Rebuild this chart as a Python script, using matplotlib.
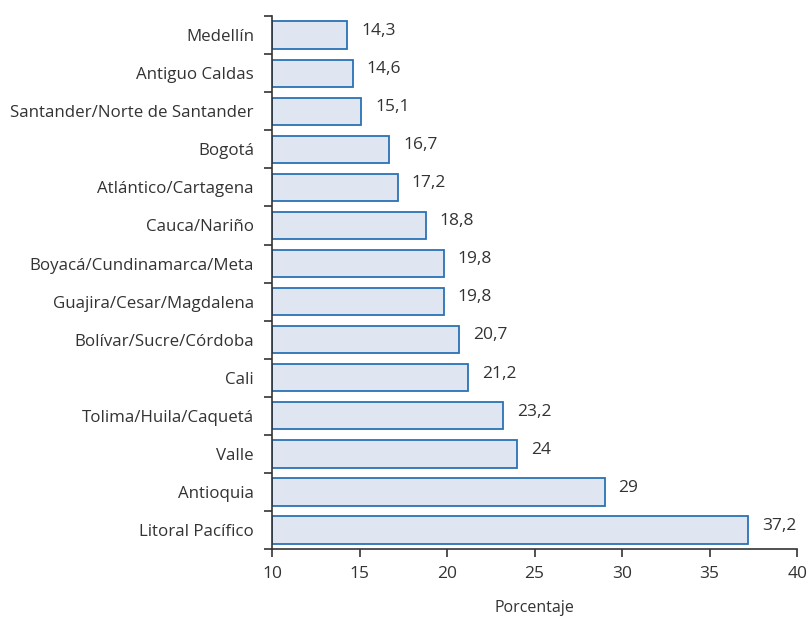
import matplotlib.pyplot as plt
import numpy as np

regions = [
    "Medellín",
    "Antiguo Caldas",
    "Santander/Norte de Santander",
    "Bogotá",
    "Atlántico/Cartagena",
    "Cauca/Nariño",
    "Boyacá/Cundinamarca/Meta",
    "Guajira/Cesar/Magdalena",
    "Bolívar/Sucre/Córdoba",
    "Cali",
    "Tolima/Huila/Caquetá",
    "Valle",
    "Antioquia",
    "Litoral Pacífico",
]
values = [14.3, 14.6, 15.1, 16.7, 17.2, 18.8, 19.8, 19.8, 20.7, 21.2, 23.2, 24, 29, 37.2]
x_ticks = [10, 15, 20, 25, 30, 35, 40]

plt.rcParams["font.family"] = ["Open Sans", "DejaVu Sans"]
text_color = "#333333"

fig = plt.figure(figsize=(8.08, 6.2), dpi=100)
ax = fig.add_axes([0.3366, 0.1145, 0.65, 0.8595])

n = len(regions)
pos = np.arange(n)
base = 10
ax.barh(
    pos,
    [v - base for v in values],
    left=base,
    height=0.72,
    color="#dfe6f1",
    edgecolor="#2a72b5",
    linewidth=1.3,
)

for p, v in zip(pos, values):
    label = f"{v:g}".replace(".", ",")
    ax.annotate(
        label,
        (v, p),
        xytext=(10, 3),
        textcoords="offset points",
        va="center",
        ha="left",
        fontsize=12.5,
        color=text_color,
    )

ax.set_xlim(10, 40)
ax.set_ylim(n - 0.5, -0.5)
ax.set_xticks(x_ticks)
ax.set_xticklabels([str(t) for t in x_ticks], fontsize=12.5, color=text_color)

# ticks at category boundaries, labels at centres
ax.set_yticks(np.arange(n + 1) - 0.5)
ax.set_yticklabels([])
ax.set_yticks(pos, minor=True)
ax.set_yticklabels(regions, minor=True, fontsize=12.2, color=text_color)
ax.tick_params(axis="y", which="minor", length=0, pad=13)
ax.tick_params(axis="y", which="major", length=6, width=1.2, color="#333333")
ax.tick_params(axis="x", length=6, width=1.2, color="#333333", pad=6)

for s in ["top", "right"]:
    ax.spines[s].set_visible(False)
for s in ["left", "bottom"]:
    ax.spines[s].set_color("#333333")
    ax.spines[s].set_linewidth(1.2)

ax.set_xlabel("Porcentaje", fontsize=11.5, color=text_color, labelpad=13)

fig.savefig("out.png", dpi=100, facecolor="white")
